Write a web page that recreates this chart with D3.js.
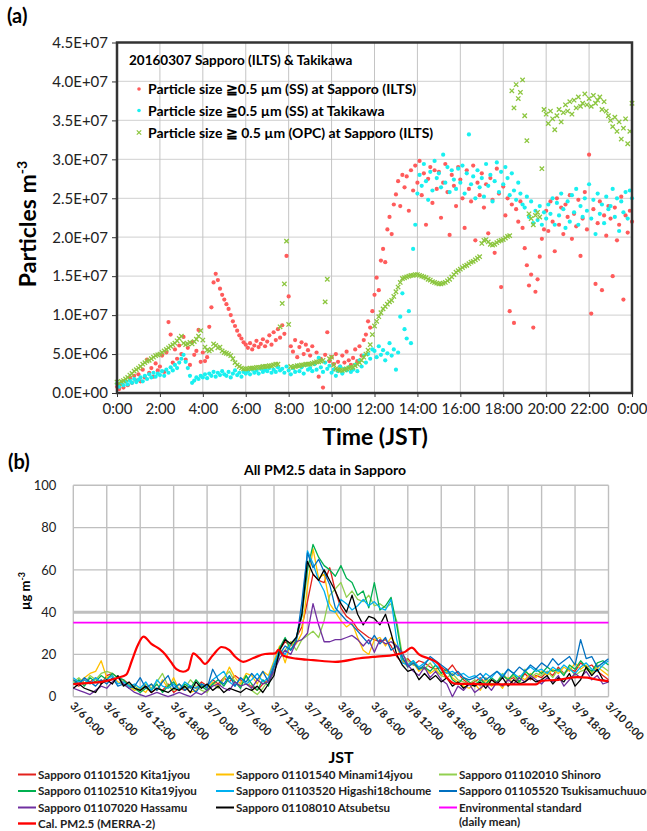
<!DOCTYPE html>
<html>
<head>
<meta charset="utf-8">
<script src="https://cdn.jsdelivr.net/npm/d3@7"></script>
<style>
  body { margin: 0; background: #fff; }
  svg { display: block; font-family: Lato, "Noto Sans", sans-serif; }
</style>
</head>
<body>
<div id="chart"></div>
<script>
// ---------- panel (a): particle number, in units of 1E+06 m-3, one reading every 6 min from 0:00 ----------
const sapporoSS = [
  0.8, 0.5, 1.2, 0.7, 1.5, 1.0, 1.9, 1.3, 2.2, 1.6,
  2.4, 1.5, 3.0, 2.0, 4.3, 2.6, 3.2, 2.1, 3.8, 2.9,
  3.4, 4.8, 2.7, 5.2, 9.1, 7.5, 3.9, 5.6, 4.4, 6.1,
  5.0, 7.2, 4.3, 5.8, 3.6, 6.5, 4.9, 5.4, 8.1, 4.0,
  5.2, 4.1, 4.6, 8.5, 11.0, 14.2, 15.3, 14.5, 13.4, 12.6,
  12.0, 11.4, 10.8, 10.0, 9.2, 8.6, 8.0, 7.4, 7.0, 6.5,
  6.2, 5.8, 6.4, 5.6, 6.1, 6.7, 5.9, 6.3, 6.9, 6.0,
  6.6, 7.4, 6.2, 7.8, 6.8, 8.2, 7.1, 8.7, 7.6, 17.6,
  12.4, 6.0, 5.3, 6.8, 4.6, 5.9, 6.5, 5.0, 6.2, 5.5,
  4.8, 6.0, 3.8, 5.2, 2.1, 4.4, 0.7, 4.9, 7.8, 4.1,
  4.6, 3.7, 5.0, 4.0, 3.4, 4.8, 3.9, 5.3, 4.2, 3.6,
  4.5, 5.6, 4.1, 6.0, 4.8, 6.8, 7.5, 9.2, 8.4, 10.5,
  12.6, 14.8, 13.2, 17.0, 18.5, 16.8, 21.0, 22.6, 20.4, 24.2,
  25.5, 27.2, 24.0, 28.0, 26.4, 27.8, 23.4, 28.6, 26.0, 29.2,
  27.0, 29.8, 25.4, 28.2, 21.6, 27.5, 29.0, 24.4, 28.6, 26.2,
  28.4, 22.5, 27.0, 29.4, 25.8, 20.3, 28.0, 26.6, 24.0, 29.0,
  27.4, 25.0, 21.2, 28.6, 26.2, 24.6, 29.2, 19.6, 27.0, 25.4,
  28.2, 23.8, 26.8, 20.5, 27.6, 24.8, 18.0, 28.8, 25.6, 13.6,
  26.5, 22.8, 25.0, 10.5, 24.2, 9.0, 23.6, 22.0, 24.6, 21.2,
  18.6, 16.4, 13.8, 15.2, 8.4, 13.0, 14.6, 17.5, 19.8, 21.0,
  23.4, 20.8, 24.6, 22.0, 18.2, 25.0, 21.6, 23.8, 20.4, 24.2,
  22.6, 25.4, 19.8, 23.0, 21.4, 24.8, 17.6, 22.4, 25.8, 21.0,
  30.6, 10.2, 23.6, 14.0, 21.8, 24.6, 13.2, 22.8, 20.2, 24.0,
  22.4, 15.0, 23.8, 19.6, 21.6, 25.2, 12.0, 22.8, 20.6, 23.4,
  22.0
];
const takikawaSS = [
  1.2, 0.8, 1.4, 1.0, 1.5, 1.1, 1.6, 1.3, 1.8, 1.4,
  1.7, 2.0, 1.5, 2.2, 1.8, 2.4, 2.0, 2.6, 2.1, 2.5,
  2.3, 2.8, 2.2, 3.0, 2.6, 3.3, 2.9, 3.6, 3.2, 3.9,
  4.4, 4.9, 4.0, 3.2, 2.2, 1.3, 1.6, 2.0, 1.8, 2.2,
  2.0, 2.4, 1.9, 2.5, 2.2, 2.7, 2.1, 2.6, 2.3, 2.8,
  2.4, 2.2, 2.7, 2.0, 2.5, 2.9, 2.3, 2.6, 2.1, 2.7,
  2.5, 2.8, 2.4, 3.0, 2.6, 2.9, 2.5, 3.1, 2.7, 3.0,
  2.8, 3.2, 2.6, 3.0, 2.7, 3.3, 2.9, 3.1, 2.6, 3.4,
  2.9, 2.4, 3.2, 2.7, 3.5, 2.8, 3.3, 2.5, 3.6, 3.0,
  3.2, 2.8, 3.7, 3.0, 4.5, 3.3, 2.7, 3.9, 3.1, 3.5,
  2.6, 3.0, 2.2, 2.8, 3.4, 2.5, 3.1, 2.9, 3.3, 2.7,
  3.0, 3.6, 2.8, 4.2, 3.4, 4.8, 3.9, 5.0, 4.4, 5.6,
  5.4, 4.6, 6.0, 4.9, 5.5, 4.2, 5.1, 6.4, 4.8, 5.6,
  3.0, 5.2, 9.8, 12.8, 8.2, 7.0, 10.5, 6.4, 18.5, 21.6,
  25.6, 28.0, 26.6, 29.4, 27.2, 24.8, 28.4, 26.0, 29.8, 27.6,
  28.2, 26.4, 30.6, 27.0, 29.0, 25.8, 28.6, 27.4, 26.2, 28.8,
  27.0, 29.2, 25.6, 28.2, 33.2, 26.8, 27.8, 25.0, 28.6, 26.4,
  27.6, 25.2, 29.4, 26.6, 28.0, 24.6, 27.2, 29.6, 25.8, 28.4,
  26.8, 29.0, 27.6, 25.4, 28.2, 26.0, 24.8, 27.0, 25.6, 24.2,
  23.8, 25.2, 22.6, 24.6, 21.8, 23.4, 22.2, 24.0, 21.6, 23.2,
  22.4, 24.2, 23.0, 25.0, 21.6, 24.4, 22.8, 25.6, 23.6, 21.2,
  24.6, 22.0, 25.4, 23.2, 26.2, 21.6, 24.0, 22.6, 25.0, 23.4,
  26.8, 22.4, 24.8, 20.4, 25.6, 23.0, 24.2, 21.8, 25.2, 23.6,
  24.0, 26.2, 22.6, 25.0, 20.8, 24.6, 23.2, 25.8, 22.4, 26.0,
  25.0
];
const sapporoOPC = [
  1.4, 1.2, 1.5, 1.6, 1.8, 2.0, 2.3, 2.5, 2.8, 3.0,
  3.2, 3.4, 3.7, 3.9, 4.1, 4.2, 4.4, 4.6, 4.8, 4.9,
  5.0, 5.2, 5.4, 5.6, 5.8, 6.0, 6.2, 6.4, 6.7, 7.0,
  7.3, 6.4, 6.2, 6.3, 6.5, 6.3, 6.6, 6.9, 7.3, 8.0,
  6.8, 5.9, 5.5, 5.4, 5.6, 6.3, 6.1, 5.8, 5.9, 5.4,
  5.2, 5.1, 5.0, 4.8, 4.4, 3.9, 3.6, 3.4, 3.2, 3.1,
  3.1, 3.1, 3.2, 3.2, 3.2, 3.3, 3.3, 3.3, 3.4, 3.4,
  3.4, 3.5, 3.5, 3.6, 3.7, 3.7, 8.5, 11.5, 14.0, 19.5,
  8.8, 3.4, 3.3, 3.4, 3.5, 3.5, 3.6, 3.6, 3.7, 3.7,
  3.7, 3.8, 3.9, 4.0, 4.0, 4.1, 4.2, 11.7, 14.6, 4.4,
  4.6, 3.6, 3.1, 3.0, 2.9, 2.9, 3.0, 3.1, 3.2, 3.3,
  3.3, 3.5, 3.7, 3.9, 4.2, 4.6, 5.0, 5.5, 6.2, 7.5,
  8.6, 9.2, 9.8, 10.3, 10.8, 11.1, 11.4, 11.7, 11.9, 12.4,
  13.0, 13.6, 14.2, 14.7, 14.8, 14.9, 15.0, 15.1, 15.1, 15.2,
  15.2, 15.1, 15.0, 14.9, 14.8, 14.6, 14.5, 14.3, 14.2, 14.1,
  14.0, 14.0, 14.1, 14.2, 14.4, 14.6, 14.9, 15.2, 15.5, 15.7,
  15.9, 16.1, 16.3, 16.4, 16.6, 16.8, 16.9, 17.1, 17.3, 17.5,
  19.2, 19.6, 19.7, 19.4, 19.1, 19.0, 19.1, 19.3, 19.5, 19.6,
  19.7, 19.9, 20.1, 20.2, 38.8, 36.6, 39.6, 37.8, 38.6, 40.2,
  35.6, 32.4, 23.0, 22.4, 21.6, 22.8, 23.2, 22.6, 28.8, 36.4,
  35.8, 34.6, 36.2, 35.2, 33.8, 35.6, 36.4, 34.8, 36.0, 37.0,
  36.2, 37.4, 35.8, 37.6, 36.6, 38.0, 36.8, 37.2, 38.4, 37.0,
  37.8, 36.8, 38.2, 37.2, 37.6, 38.0, 36.4, 37.4, 36.2, 35.6,
  35.0, 34.2, 35.4, 33.6, 34.8, 32.6, 34.0, 35.2, 32.0, 33.6,
  37.2
];
const yTickLabelsA = ["0.0E+00", "5.0E+06", "1.0E+07", "1.5E+07", "2.0E+07",
  "2.5E+07", "3.0E+07", "3.5E+07", "4.0E+07", "4.5E+07"];
const xTickLabelsA = ["0:00", "2:00", "4:00", "6:00", "8:00", "10:00", "12:00",
  "14:00", "16:00", "18:00", "20:00", "22:00", "0:00"];
const legendA = [
  "Particle size \u22670.5 \u00b5m (SS) at Sapporo (ILTS)",
  "Particle size \u22670.5 \u00b5m (SS) at Takikawa",
  "Particle size \u2267 0.5 \u00b5m (OPC) at Sapporo (ILTS)"
];

// ---------- panel (b): hourly PM2.5 (ug m-3) from 3/6 0:00 to 3/10 0:00 ----------
const kita1jyou = [
  6, 5, 8, 7, 9, 6, 10, 11, 9, 8, 6, 4,
  3, 5, 2, 4, 3, 6, 2, 4, 3, 5, 4, 7,
  5, 8, 6, 9, 7, 10, 8, 6, 5, 3, 6, 8,
  15, 22, 26, 24, 28, 33, 45, 58, 55, 54, 61, 50,
  42, 38, 36, 32, 30, 28, 27, 26, 27, 24, 19, 16,
  18, 15, 17, 16, 14, 13, 14, 12, 15, 11, 8, 6,
  7, 9, 6, 8, 7, 10, 8, 9, 7, 11, 8, 10,
  9, 12, 10, 14, 11, 13, 12, 16, 14, 15, 12, 10, 8
];
const minami14jyou = [
  8, 7, 9, 11, 12, 17, 9, 10, 7, 6, 5, 3,
  4, 2, 6, 3, 8, 4, 9, 3, 5, 2, 3, 6,
  4, 7, 5, 8, 14, 9, 6, 11, 10, 6, 12, 10,
  17, 24, 16, 26, 25, 30, 52, 70, 56, 58, 44, 40,
  36, 33, 35, 28, 22, 20, 27, 28, 24, 28, 24, 17,
  14, 16, 12, 14, 11, 13, 10, 12, 9, 7, 5, 4,
  6, 3, 8, 5, 7, 4, 9, 6, 10, 8, 11, 9,
  12, 10, 13, 11, 14, 12, 16, 13, 15, 11, 14, 12, 10
];
const shinoro = [
  7, 9, 6, 10, 8, 11, 12, 11, 9, 7, 6, 5,
  3, 6, 4, 7, 11, 5, 3, 6, 4, 8, 5, 3,
  2, 6, 4, 9, 12, 7, 5, 10, 3, 1, 4, 8,
  11, 20, 22, 26, 22, 27, 29, 31, 28, 36, 48, 51,
  54, 47, 50, 46, 45, 48, 43, 44, 42, 44, 36, 20,
  17, 15, 14, 13, 16, 12, 10, 9, 11, 8, 7, 6,
  8, 5, 9, 6, 7, 11, 8, 10, 6, 13, 9, 11,
  10, 12, 9, 13, 11, 14, 10, 12, 13, 11, 15, 14, 12
];
const kita19jyou = [
  6, 8, 5, 9, 7, 10, 8, 11, 9, 8, 5, 4,
  2, 4, 3, 6, 2, 5, 7, 3, 6, 4, 8, 5,
  3, 6, 8, 5, 9, 7, 4, 10, 6, 3, 8, 5,
  14, 23, 28, 22, 27, 38, 60, 72, 66, 62, 60, 57,
  62, 56, 54, 48, 50, 42, 54, 41, 43, 47, 34, 18,
  15, 17, 13, 14, 12, 15, 11, 13, 8, 6, 9, 7,
  5, 8, 6, 9, 7, 10, 8, 11, 7, 12, 10, 13,
  11, 14, 12, 13, 10, 15, 13, 17, 14, 12, 16, 17, 15
];
const higashi18choume = [
  9, 7, 8, 6, 9, 7, 8, 10, 6, 7, 5, 6,
  4, 7, 3, 8, 5, 4, 6, 3, 7, 5, 4, 6,
  5, 8, 10, 12, 7, 5, 9, 6, 8, 11, 7, 9,
  16, 22, 20, 25, 28, 40, 69, 63, 55, 50, 41, 40,
  46, 44, 41, 43, 46, 43, 45, 42, 41, 46, 27, 16,
  15, 17, 14, 16, 18, 15, 13, 11, 12, 10, 11, 9,
  10, 8, 11, 9, 12, 10, 13, 11, 9, 12, 14, 12,
  13, 11, 14, 12, 15, 13, 11, 14, 16, 13, 12, 15, 17
];
const tsukisamuchuuou = [
  8, 6, 9, 7, 5, 8, 6, 9, 5, 6, 4, 5,
  9, 4, 6, 3, 7, 10, 4, 6, 3, 5, 2, 6,
  4, 13, 8, 6, 10, 5, 9, 7, 11, 8, 12, 7,
  14, 20, 24, 22, 26, 45, 68, 61, 65, 59, 53, 42,
  39, 36, 34, 31, 28, 25, 29, 25, 28, 22, 24, 19,
  14, 16, 13, 15, 19, 17, 15, 13, 10, 12, 9, 8,
  9, 11, 8, 10, 12, 9, 13, 11, 14, 12, 15, 13,
  16, 14, 18, 15, 17, 19, 15, 27, 18, 19, 14, 16, 18
];
const hassamu = [
  4, 3, 2, 1, 3, 5, 4, 7, 9, 6, 4, 2,
  1, 0, 1, 2, 1, 0, 1, 2, 1, 0, 2, 1,
  3, 5, 6, 4, 3, 7, 5, 6, 4, 8, 6, 7,
  12, 18, 22, 20, 26, 27, 30, 44, 34, 26, 26, 27,
  27, 28, 29, 27, 24, 27, 21, 27, 25, 26, 24, 21,
  15, 12, 10, 14, 9, 12, 8, 6, 0, 5, 3, 6,
  2, 4, 6, 3, 7, 5, 8, 6, 9, 7, 10, 8,
  6, 9, 7, 10, 5, 8, 11, 9, 12, 8, 10, 6, 7
];
const atsubetsu = [
  4, 6, 4, 3, 2, 6, 8, 6, 10, 5, 7, 4,
  3, 5, 2, 4, 3, 2, 4, 3, 5, 2, 7, 4,
  6, 3, 5, 2, 4, 3, 2, 4, 3, 5, 2, 6,
  10, 22, 27, 25, 28, 39, 64, 58, 55, 60, 55, 50,
  44, 40, 48, 39, 34, 38, 37, 34, 39, 30, 20, 15,
  12, 13, 8, 11, 8, 10, 7, 9, 5, 7, 4, 6,
  5, 7, 4, 8, 6, 9, 5, 8, 6, 7, 9, 7,
  8, 10, 6, 9, 7, 11, 5, 8, 14, 10, 13, 8, 7
];
// MERRA-2 estimate, read at irregular hours
const merraHours = [0, 3, 6, 8, 9.5, 10.5, 11.5, 12.6, 14, 15.5, 16.5, 17.5, 18.5, 19.7, 20.6, 21.5,
  22.7, 23.6, 25, 26.6, 28, 29, 30.5, 32.3, 34.4, 36.2, 36.8, 37.7, 40, 43, 47, 51.4, 54.4,
  57.7, 59.5, 60.7, 62, 64, 65.5, 67, 68.5, 72, 78, 83, 84, 87, 90.4, 92.2, 94.5, 96];
const merraValues = [6.0, 6.5, 7.5, 9.0, 10.5, 17, 24, 28.4, 25, 22.5, 20, 16.5, 13, 11.8, 12.8, 20.5,
  18, 15.5, 19.5, 23.5, 22, 19, 16.5, 18.3, 20.2, 20.5, 22.2, 19.4, 18, 17.3, 16.5, 18.2, 19,
  19.8, 21.2, 23.2, 20, 17.8, 15.5, 9, 6.2, 6.0, 5.8, 5.8, 7.5, 8.0, 9.3, 9.0, 7.8, 7.4];
const envStandard = 35;
const yTickLabelsB = ["0", "20", "40", "60", "80", "100"];
const xTickLabelsB = ["3/6 0:00", "3/6 6:00", "3/6 12:00", "3/6 18:00", "3/7 0:00", "3/7 6:00",
  "3/7 12:00", "3/7 18:00", "3/8 0:00", "3/8 6:00", "3/8 12:00", "3/8 18:00", "3/9 0:00",
  "3/9 6:00", "3/9 12:00", "3/9 18:00", "3/10 0:00"];
const stationNames = ["Sapporo 01101520 Kita1jyou", "Sapporo 01101540 Minami14jyou",
  "Sapporo 01102010 Shinoro", "Sapporo 01102510 Kita19jyou", "Sapporo 01103520 Higashi18choume",
  "Sapporo 01105520 Tsukisamuchuuou", "Sapporo 01107020 Hassamu", "Sapporo 01108010 Atsubetsu"];
const stationSeries = [kita1jyou, minami14jyou, shinoro, kita19jyou, higashi18choume,
  tsukisamuchuuou, hassamu, atsubetsu];

const stationColors = ["#e3211c", "#ffc000", "#92d050", "#00b050", "#00b0f0", "#0070c0", "#7030a0", "#000000"];

const svg = d3.select("#chart").append("svg")
  .attr("width", 647)
  .attr("height", 831);

// ================= panel (a) =================
const mA = { left: 117, right: 632, top: 42.5, bottom: 393 };
const xA = d3.scaleLinear().domain([0, 24]).range([mA.left, mA.right]);
const yA = d3.scaleLinear().domain([0, 45]).range([mA.bottom, mA.top]);

svg.append("text").attr("x", 7).attr("y", 23)
  .attr("font-size", 20).attr("font-weight", "bold").text("(a)");

// grid
svg.append("g").selectAll("line").data(d3.range(5, 45, 5)).join("line")
  .attr("x1", mA.left).attr("x2", mA.right)
  .attr("y1", d => yA(d)).attr("y2", d => yA(d))
  .attr("stroke", "#d9d9d9").attr("stroke-width", 1.3);
svg.append("g").selectAll("line").data(d3.range(2, 24, 2)).join("line")
  .attr("x1", d => xA(d)).attr("x2", d => xA(d))
  .attr("y1", mA.top).attr("y2", mA.bottom)
  .attr("stroke", "#c4c4c4").attr("stroke-width", 1);

// axes
const axLeftA = svg.append("g")
  .attr("transform", `translate(${mA.left},0)`)
  .call(d3.axisLeft(yA).tickValues(d3.range(0, 50, 5)).tickSize(5).tickPadding(4)
    .tickFormat((d, i) => yTickLabelsA[i]));
axLeftA.select(".domain").remove();
axLeftA.selectAll("text").attr("font-size", 15).attr("font-family", "Lato").attr("fill", "#222");
axLeftA.selectAll("line").attr("stroke", "#333");

const axBottomA = svg.append("g")
  .attr("transform", `translate(0,${mA.bottom})`)
  .call(d3.axisBottom(xA).tickValues(d3.range(0, 26, 2)).tickSize(4).tickPadding(6)
    .tickFormat((d, i) => xTickLabelsA[i]));
axBottomA.select(".domain").remove();
axBottomA.selectAll("text").attr("font-size", 15).attr("font-family", "Lato").attr("fill", "#222");
axBottomA.selectAll("line").attr("stroke", "#333");

// points
const tA = i => i / 10;
svg.append("g").selectAll("circle").data(sapporoSS).join("circle")
  .attr("cx", (d, i) => xA(tA(i))).attr("cy", d => yA(d))
  .attr("r", 2.1).attr("fill", "#ff5b5b");
svg.append("g").selectAll("circle").data(takikawaSS).join("circle")
  .attr("cx", (d, i) => xA(tA(i))).attr("cy", d => yA(d))
  .attr("r", 2.1).attr("fill", "#19f0f0");
const cross = "M-2.2,-2.2L2.2,2.2M-2.2,2.2L2.2,-2.2";
svg.append("g").selectAll("path").data(sapporoOPC).join("path")
  .attr("transform", (d, i) => `translate(${xA(tA(i))},${yA(d)})`)
  .attr("d", cross).attr("stroke", "#8cc63f").attr("stroke-width", 1.3).attr("fill", "none");

// frame
svg.append("rect")
  .attr("x", mA.left).attr("y", mA.top)
  .attr("width", mA.right - mA.left).attr("height", mA.bottom - mA.top)
  .attr("fill", "none").attr("stroke", "#333").attr("stroke-width", 2.5);

// legend (a)
svg.append("text").attr("x", 129).attr("y", 65)
  .attr("font-size", 13.5).attr("font-weight", "bold").text("20160307 Sapporo (ILTS) & Takikawa");
const legA = svg.append("g").selectAll("g").data(legendA).join("g")
  .attr("transform", (d, i) => `translate(139,${[89, 110.5, 132.5][i]})`);
legA.append("text").attr("x", 9).attr("y", 5)
  .attr("font-size", 14).attr("font-weight", "bold").text(d => d);
legA.filter((d, i) => i < 2).append("circle")
  .attr("r", 1.8).attr("fill", (d, i) => ["#ff5b5b", "#19f0f0"][i]);
legA.filter((d, i) => i === 2).append("path")
  .attr("d", cross).attr("stroke", "#8cc63f").attr("stroke-width", 1.2);

// axis titles (a)
svg.append("text")
  .attr("transform", "translate(36,224) rotate(-90)")
  .attr("text-anchor", "middle").attr("font-size", 23).attr("font-weight", "bold")
  .text("Particles m")
  .append("tspan").attr("font-size", 14).attr("dy", -9).text("-3");
svg.append("text").attr("x", 375).attr("y", 445)
  .attr("text-anchor", "middle").attr("font-size", 23).attr("font-weight", "bold")
  .text("Time (JST)");

// ================= panel (b) =================
const mB = { left: 73.3, right: 608.5, top: 485.3, bottom: 696.7 };
const xB = d3.scaleLinear().domain([0, 96]).range([mB.left, mB.right]);
const yB = d3.scaleLinear().domain([0, 100]).range([mB.bottom, mB.top]);

svg.append("text").attr("x", 8).attr("y", 469)
  .attr("font-size", 20).attr("font-weight", "bold").text("(b)");
svg.append("text").attr("x", 325).attr("y", 475)
  .attr("text-anchor", "middle").attr("font-size", 14).attr("font-weight", "bold")
  .text("All PM2.5 data in Sapporo");

svg.append("g").selectAll("line").data(d3.range(0, 120, 20)).join("line")
  .attr("x1", mB.left).attr("x2", mB.right)
  .attr("y1", d => yB(d)).attr("y2", d => yB(d))
  .attr("stroke", "#bfbfbf").attr("stroke-width", d => d === 40 ? 3 : 1.4);
svg.append("g").selectAll("line").data(d3.range(0, 102, 6)).join("line")
  .attr("x1", d => xB(d)).attr("x2", d => xB(d))
  .attr("y1", mB.top).attr("y2", mB.bottom)
  .attr("stroke", "#bfbfbf").attr("stroke-width", 1.4);

const axLeftB = svg.append("g")
  .attr("transform", `translate(${mB.left},0)`)
  .call(d3.axisLeft(yB).tickValues(d3.range(0, 120, 20)).tickSize(0).tickPadding(17)
    .tickFormat((d, i) => yTickLabelsB[i]));
axLeftB.select(".domain").remove();
axLeftB.selectAll("text").attr("font-size", 13).attr("font-family", "Lato").attr("fill", "#222");

svg.append("g").selectAll("text").data(xTickLabelsB).join("text")
  .attr("transform", (d, i) => `translate(${xB(i * 6) - 1},${mB.bottom + 7}) rotate(45)`)
  .attr("dy", "0.35em")
  .attr("font-size", 11).attr("font-weight", "bold").attr("fill", "#222")
  .text(d => d);

const line = d3.line().x((d, i) => xB(i)).y(d => yB(d));
svg.append("g").selectAll("path").data(stationSeries).join("path")
  .attr("d", line)
  .attr("fill", "none")
  .attr("stroke", (d, i) => stationColors[i])
  .attr("stroke-width", 1.3)
  .attr("stroke-linejoin", "round");

svg.append("line")
  .attr("x1", mB.left).attr("x2", mB.right)
  .attr("y1", yB(envStandard)).attr("y2", yB(envStandard))
  .attr("stroke", "#ff00ff").attr("stroke-width", 1.8);

const merra = merraHours.map((h, i) => [h, merraValues[i]]);
svg.append("path")
  .attr("d", d3.line().x(d => xB(d[0])).y(d => yB(d[1])).curve(d3.curveMonotoneX)(merra))
  .attr("fill", "none").attr("stroke", "#ff0000").attr("stroke-width", 2.2);

svg.append("text")
  .attr("transform", "translate(30,591) rotate(-90)")
  .attr("text-anchor", "middle").attr("font-size", 13).attr("font-weight", "bold")
  .text("\u00b5g m")
  .append("tspan").attr("font-size", 9).attr("dy", -5).text("-3");
svg.append("text").attr("x", 341).attr("y", 763)
  .attr("text-anchor", "middle").attr("font-size", 16).attr("font-weight", "bold")
  .text("JST");

// legend (b)
const legendB = stationNames.map((n, i) => ({ name: [n], color: stationColors[i], w: 2 }))
  .concat([{ name: ["Environmental standard", "(daily mean)"], color: "#ff00ff", w: 2 },
           { name: ["Cal. PM2.5 (MERRA-2)"], color: "#ff0000", w: 2.4 }]);
const colX = [18, 216, 439];
const rowY = [774.5, 791, 807.5, 823.5];
const legB = svg.append("g").selectAll("g").data(legendB).join("g")
  .attr("transform", (d, i) => `translate(${colX[i % 3]},${rowY[Math.floor(i / 3)]})`);
legB.append("line").attr("x1", 0).attr("x2", 18)
  .attr("stroke", d => d.color).attr("stroke-width", d => d.w);
legB.append("text").attr("x", 20).attr("y", 4)
  .attr("font-size", 11.6).attr("font-weight", "bold").attr("fill", "#222")
  .selectAll("tspan").data(d => d.name).join("tspan")
  .attr("x", 20).attr("dy", (d, i) => i ? 14 : 0)
  .text(d => d);
</script>
</body>
</html>
